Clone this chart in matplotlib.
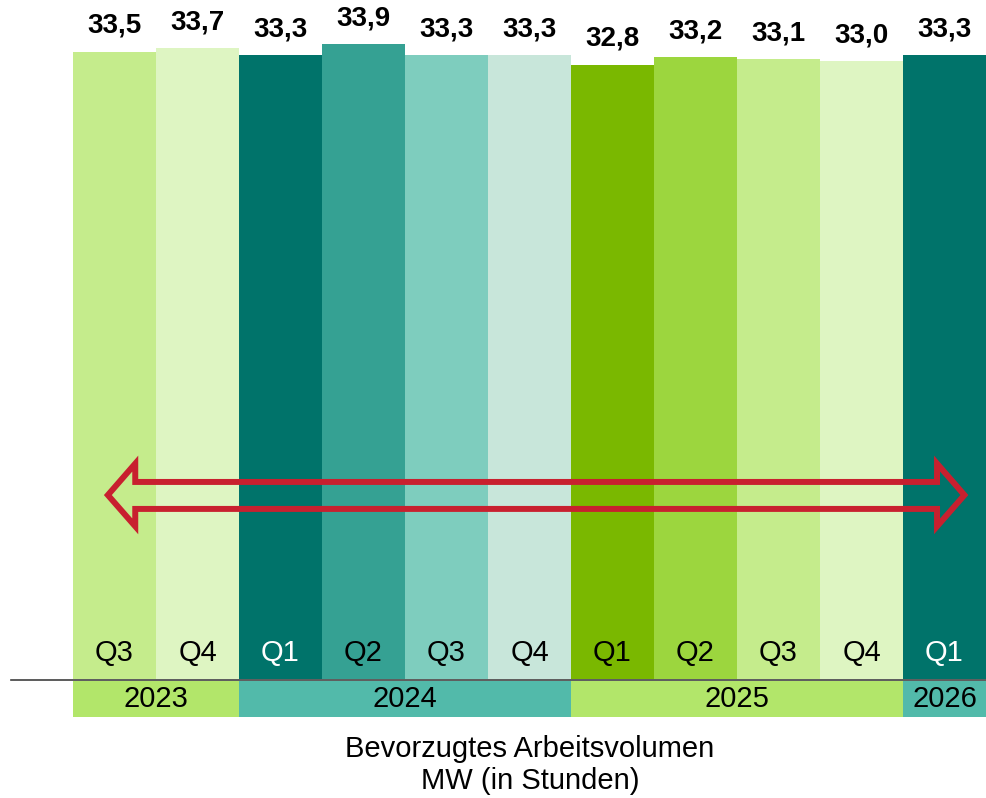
import matplotlib
matplotlib.use('Agg')
import matplotlib.pyplot as plt
from matplotlib.patches import Polygon
from matplotlib.lines import Line2D

plt.rcParams['font.family'] = ['Liberation Sans', 'DejaVu Sans']

# data
quarters = ['Q3', 'Q4', 'Q1', 'Q2', 'Q3', 'Q4', 'Q1', 'Q2', 'Q3', 'Q4', 'Q1']
values = [33.5, 33.7, 33.3, 33.9, 33.3, 33.3, 32.8, 33.2, 33.1, 33.0, 33.3]
bar_colors = ['#C5EC8C', '#DEF5C2', '#00736A', '#35A193', '#7ECDBE', '#C8E6DA',
              '#7AB800', '#9CD63E', '#C5EC8C', '#DEF5C2', '#00736A']
q_text_colors = ['black', 'black', 'white', 'black', 'black', 'black',
                 'black', 'black', 'black', 'black', 'white']
years = ['2023', '2024', '2025', '2026']
year_counts = [2, 4, 4, 1]
year_colors = ['#B2E66A', '#52BAAA', '#B2E66A', '#52BAAA']
caption = 'Bevorzugtes Arbeitsvolumen\nMW (in Stunden)'

W, H = 986, 798
fig = plt.figure(figsize=(W / 100, H / 100), dpi=100)

# main bar axes
ax = fig.add_axes([73 / W, 119 / H, 913 / W, 679 / H])
x = list(range(len(values)))
ax.bar(x, values, width=1.0, color=bar_colors, edgecolor='none')
ax.set_xlim(-0.5, len(values) - 0.5)
ax.set_ylim(0, 36.25)
ax.axis('off')

for xi, v in zip(x, values):
    ax.annotate(f'{v:.1f}'.replace('.', ','), (xi, v), xytext=(0, 18.5),
                textcoords='offset points', ha='center', va='center',
                fontsize=20, fontweight='bold')

for xi, q, c in zip(x, quarters, q_text_colors):
    ax.annotate(q, (xi, 0), xytext=(0, 19), textcoords='offset points',
                ha='center', va='center', fontsize=21, color=c)

# double arrow (outline only)
arrow = [(-0.08, 9.82), (0.25, 11.5), (0.25, 10.52), (9.91, 10.52), (9.91, 11.5),
         (10.24, 9.82), (9.91, 8.15), (9.91, 9.08), (0.25, 9.08), (0.25, 8.15)]
ax.add_patch(Polygon(arrow, closed=True, fill=False, edgecolor='#C8202F',
                     lw=4.3, joinstyle='miter'))

# year band
ax2 = fig.add_axes([73 / W, 81 / H, 913 / W, 36 / H])
start = -0.5
for yr, n, c in zip(years, year_counts, year_colors):
    ax2.bar(start + n / 2, 1, width=n, color=c, edgecolor='none')
    ax2.text(start + n / 2, 0.5, yr, ha='center', va='center', fontsize=21)
    start += n
ax2.set_xlim(-0.5, len(values) - 0.5)
ax2.set_ylim(0, 1)
ax2.axis('off')

# baseline
fig.add_artist(Line2D([11 / W, 1.0], [1 - 679.5 / H, 1 - 679.5 / H],
                      color='#404040', lw=1.2))

fig.text(530 / W, 1 - 765 / H, caption, ha='center', va='center',
         fontsize=21, linespacing=1.15)

fig.savefig('out.png', dpi=100)
